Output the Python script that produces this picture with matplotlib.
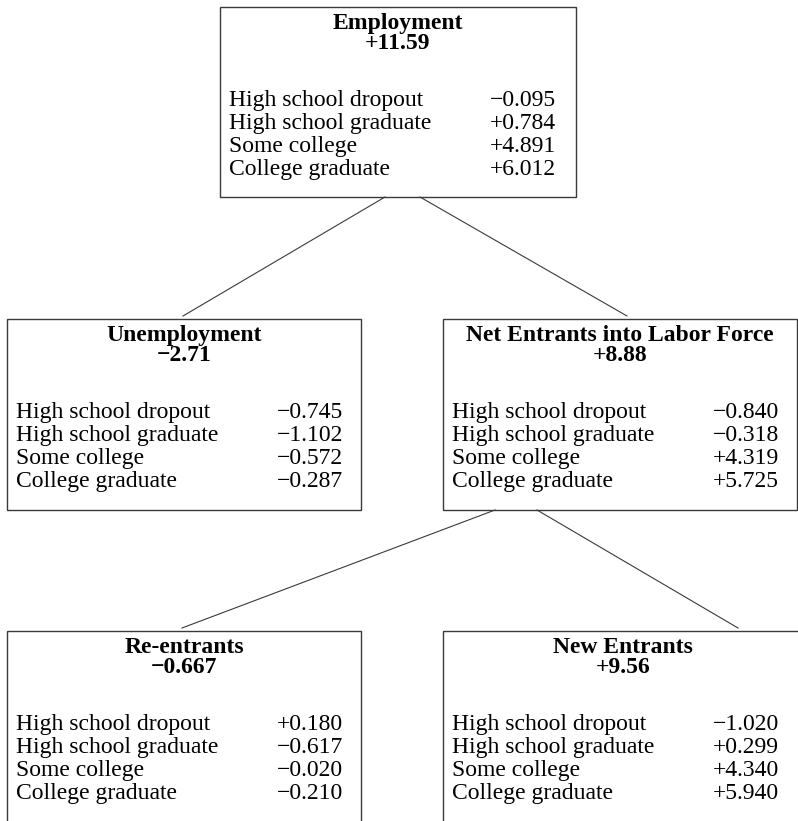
import matplotlib.pyplot as plt
from matplotlib.patches import Rectangle

# DATOS
educacion = ["High school dropout", "High school graduate", "Some college", "College graduate"]

nodos = ["Employment", "Unemployment", "Net Entrants into Labor Force",
         "Re-entrants", "New Entrants"]
totales = [11.59, -2.71, 8.88, -0.667, 9.56]
decimales_total = [2, 2, 2, 3, 2]

aportes = [
    [-0.095, 0.784, 4.891, 6.012],    # Employment
    [-0.745, -1.102, -0.572, -0.287], # Unemployment
    [-0.840, -0.318, 4.319, 5.725],   # Net Entrants
    [0.180, -0.617, -0.020, -0.210],  # Re-entrants
    [-1.020, 0.299, 4.340, 5.940],    # New Entrants
]

# padre -> hijo
enlaces = [(0, 1), (0, 2), (2, 3), (2, 4)]

# LAYOUT (pixeles, y hacia abajo)
cajas = [(220, 7, 356, 190), (7, 319, 354, 191), (443, 319, 354, 191),
         (7, 631, 354, 195), (443, 631, 360, 195)]
lineas = [((385, 197), (183, 316)), ((420, 197), (627, 316)),
          ((495, 510), (182, 628)), ((537, 510), (738, 628))]

fuente = ["Liberation Serif", "DejaVu Serif"]
color_borde = "#3a3a3a"


def formato(v, d):
    s = f"{abs(v):.{d}f}"
    return ("+" if v >= 0 else "\u2212") + s


fig = plt.figure(figsize=(7.98, 8.21), dpi=100)
ax = fig.add_axes([0, 0, 1, 1])
ax.set_xlim(0, 798)
ax.set_ylim(821, 0)
ax.axis("off")

# LINEAS
for (p, h), ((x0, y0), (x1, y1)) in zip(enlaces, lineas):
    ax.plot([x0, x1], [y0, y1], color=color_borde, lw=0.8)

# CAJAS
for i, nombre in enumerate(nodos):
    x, y, w, h = cajas[i]
    ax.add_patch(Rectangle((x, y), w, h, fill=False, edgecolor=color_borde, lw=1.0))

    cx = x + w / 2
    ax.text(cx, y + 22, nombre, ha="center", va="baseline",
            family=fuente, fontsize=17, fontweight="bold")
    ax.text(cx, y + 42, formato(totales[i], decimales_total[i]), ha="center",
            va="baseline", family=fuente, fontsize=17, fontweight="bold")

    for j, etiqueta in enumerate(educacion):
        yb = y + 99 + j * 23
        ax.text(x + 9, yb, etiqueta, ha="left", va="baseline",
                family=fuente, fontsize=17)
        ax.text(x + 336, yb, formato(aportes[i][j], 3), ha="right",
                va="baseline", family=fuente, fontsize=17)

fig.savefig("out.png", dpi=100, facecolor="white")
